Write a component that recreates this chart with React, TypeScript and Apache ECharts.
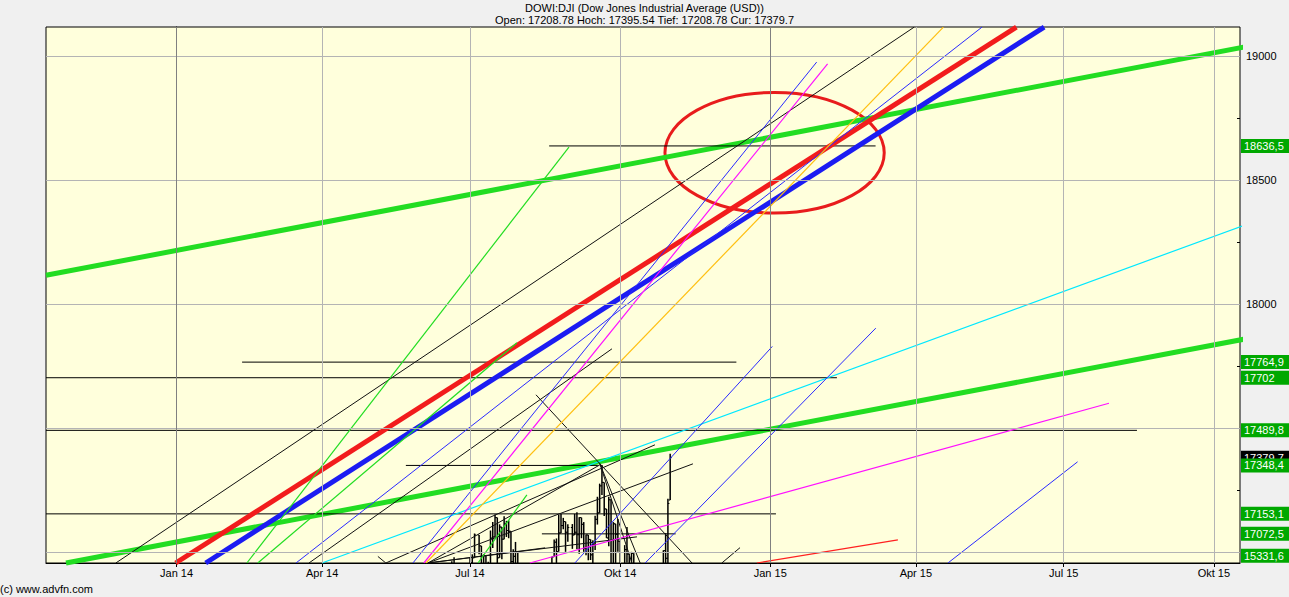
import React, { useEffect, useRef } from 'react';
import * as echarts from 'echarts';

const TITLE = 'DOWI:DJI (Dow Jones Industrial Average (USD))';
const SUBTITLE = 'Open: 17208.78 Hoch: 17395.54 Tief: 17208.78 Cur: 17379.7';
const FOOTER = '(c) www.advfn.com';
const FONT = 'Liberation Sans, Arial, sans-serif';

// x unit: weekday (session) index counted from 2014-01-01
const X_MIN = -57.4;
const X_MAX = 467.5;
const Y_MIN = 16955;
const Y_MAX = 19116;

const quarterTicks = [0, 64, 129, 195, 261, 325, 390, 456];
const quarterLabels = ['Jan 14', 'Apr 14', 'Jul 14', 'Okt 14', 'Jan 15', 'Apr 15', 'Jul 15', 'Okt 15'];
const priceGrid = [17000, 17500, 18000, 18500, 19000];
const priceLabels = [18000, 18500, 19000];
const priceMinorTicks = [17250, 17750, 18250, 18750];

// trend lines: [x1, price1, x2, price2]
const greenChannel = [
  [-57.4, 18114.9, 489.1, 19070],
  [-48.6, 16955, 489.1, 17892],
];
const redTrend = [[-0.4, 16955, 369.2, 19115.7]];
const blueTrend = [[12.8, 16955, 381.4, 19115.7]];
const cyanLines = [[63.9, 16955, 489.1, 18383]];
const blackLines = [
  [-26.7, 16955, 324.3, 19115.7],
  [58.2, 16955, 191.4, 17818.5],
  [158.0, 17633.1, 226.6, 16955],
  [92.0, 16955, 210.3, 17431.5],
  [88.5, 16981.5, 92.0, 16955],
  [110.5, 16955, 227.0, 17354.8],
  [110.5, 16955, 186.1, 17350.8],
  [110.5, 16955, 202.4, 17060.5],
  [110.5, 16955, 162.0, 17016.1],
  [186.1, 17355, 200.2, 16955],
  [186.1, 17355, 203.8, 16955],
  [239.7, 16955, 247.7, 17016.9],
];
const blueLines = [
  [103.9, 16955, 281.4, 18974.6],
  [52.5, 16955, 354.1, 19115.7],
  [175.1, 16955, 261.9, 17828.2],
  [206.0, 16955, 307.4, 17902],
  [339.1, 16955, 396.1, 17362.9],
];
const magentaLines = [
  [108.7, 16955, 286.2, 18967.7],
  [155.3, 16955, 409.9, 17599.2],
];
const orangeLines = [[109.6, 16955, 337.1, 19115.7]];
const greenLines = [
  [30.9, 16955, 172.5, 18631.9],
  [35.7, 16955, 149.6, 17842.7],
  [132.5, 16955, 154.0, 17229.8],
];
const redLines = [[255.1, 16955, 317.1, 17048.4]];

// horizontal levels: [price, x1, x2]
const levels = [
  [18636.5, 163.8, 307.3],
  [17764.9, 28.8, 246.1],
  [17702, -57.4, 290.3],
  [17489.8, -57.4, 422.2],
  [17153.1, -57.4, 263.5],
  [17348.4, 100.8, 185.2],
  [17072.5, 160.6, 219.4],
];

const markerValues = [18636.5, 17764.9, 17702, 17489.8, 17379.7, 17348.4, 17153.1, 17072.5, 15331.6];
const currentValue = 17379.7;

// focus ellipse: [center x, center price, radius x, radius price]
const focusEllipse = [262.9, 18608.9, 48.2, 243.1];

// daily bars: [date, open, high, low, close]
const bars: [string, number, number, number, number][] = [
  ['2014-06-19', 16906, 16962, 16880, 16921],
  ['2014-06-20', 16921, 16978, 16900, 16947],
  ['2014-07-01', 16828, 16978, 16828, 16956],
  ['2014-07-02', 16956, 16990, 16930, 16976],
  ['2014-07-03', 16976, 17074, 16976, 17068],
  ['2014-07-07', 17068, 17068, 16990, 17024],
  ['2014-07-08', 17024, 17024, 16870, 16906],
  ['2014-07-09', 16906, 16990, 16896, 16985],
  ['2014-07-10', 16985, 16985, 16825, 16915],
  ['2014-07-11', 16915, 16960, 16880, 16944],
  ['2014-07-14', 16944, 17086, 16944, 17055],
  ['2014-07-15', 17055, 17120, 17015, 17060],
  ['2014-07-16', 17060, 17151, 17060, 17138],
  ['2014-07-17', 17138, 17138, 16955, 16976],
  ['2014-07-18', 16976, 17111, 16976, 17100],
  ['2014-07-21', 17100, 17100, 16970, 17051],
  ['2014-07-22', 17051, 17143, 17051, 17113],
  ['2014-07-23', 17113, 17125, 17060, 17086],
  ['2014-07-24', 17086, 17126, 17055, 17083],
  ['2014-07-25', 17083, 17083, 16917, 16961],
  ['2014-07-28', 16961, 17010, 16880, 16982],
  ['2014-07-29', 16982, 17040, 16910, 16912],
  ['2014-07-30', 16912, 17000, 16860, 16880],
  ['2014-08-20', 16919, 16980, 16890, 16980],
  ['2014-08-21', 16980, 17050, 16980, 17039],
  ['2014-08-22', 17039, 17054, 16940, 17001],
  ['2014-08-25', 17001, 17150, 17001, 17076],
  ['2014-08-26', 17076, 17153, 17076, 17106],
  ['2014-08-27', 17106, 17137, 17091, 17122],
  ['2014-08-28', 17122, 17122, 17000, 17079],
  ['2014-08-29', 17079, 17111, 17041, 17098],
  ['2014-09-02', 17098, 17112, 17012, 17068],
  ['2014-09-03', 17068, 17153, 17068, 17079],
  ['2014-09-04', 17079, 17160, 17010, 17069],
  ['2014-09-05', 17069, 17139, 16992, 17138],
  ['2014-09-08', 17138, 17138, 17055, 17111],
  ['2014-09-09', 17111, 17120, 17000, 17014],
  ['2014-09-10', 17014, 17070, 16986, 17068],
  ['2014-09-11', 17068, 17068, 16966, 17050],
  ['2014-09-12', 17050, 17050, 16967, 16988],
  ['2014-09-15', 16988, 17047, 16950, 17031],
  ['2014-09-16', 17031, 17146, 17007, 17131],
  ['2014-09-17', 17131, 17222, 17110, 17157],
  ['2014-09-18', 17157, 17275, 17157, 17266],
  ['2014-09-19', 17266, 17350, 17229, 17280],
  ['2014-09-22', 17280, 17280, 17144, 17173],
  ['2014-09-23', 17173, 17173, 17056, 17056],
  ['2014-09-24', 17056, 17222, 17023, 17210],
  ['2014-09-25', 17210, 17210, 16945, 16946],
  ['2014-09-26', 16946, 17120, 16946, 17113],
  ['2014-09-29', 17113, 17113, 16945, 17071],
  ['2014-09-30', 17071, 17132, 17000, 17043],
  ['2014-10-01', 17043, 17043, 16780, 16804],
  ['2014-10-03', 16802, 17027, 16802, 17009],
  ['2014-10-06', 17009, 17100, 16956, 16991],
  ['2014-10-07', 16991, 16991, 16716, 16719],
  ['2014-10-08', 16719, 17000, 16658, 16994],
  ['2014-10-09', 16994, 16994, 16656, 16659],
  ['2014-10-28', 16817, 17006, 16817, 17005],
  ['2014-10-29', 17005, 17075, 16900, 16974],
  ['2014-10-30', 16974, 17214, 16938, 17195],
  ['2014-10-31', 17208.78, 17395.54, 17208.78, 17379.7],
];

function weekdayIndex(d: string): number {
  const [y, m, dd] = d.split('-').map(Number);
  const start = Date.UTC(2014, 0, 1);
  const t = Date.UTC(y, m - 1, dd);
  let n = 0;
  for (let x = start; x < t; x += 86400000) {
    const wd = new Date(x).getUTCDay();
    if (wd !== 0 && wd !== 6) n++;
  }
  return n;
}

function segSeries(c: number[], color: string, width: number, clip = true) {
  return {
    type: 'line',
    data: [[c[0], c[1]], [c[2], c[3]]],
    symbol: 'none',
    showSymbol: false,
    silent: true,
    clip,
    lineStyle: { color, width, cap: 'butt' },
  };
}

export default function App() {
  const ref = useRef<HTMLDivElement>(null);
  useEffect(() => {
    if (!ref.current) return;
    const chart = echarts.init(ref.current, null, { renderer: 'svg' });

    const series: any[] = [];
    // grid lines
    series.push({
      type: 'line',
      data: [[X_MIN, Y_MIN]],
      symbol: 'none',
      silent: true,
      lineStyle: { opacity: 0 },
      markLine: {
        symbol: 'none',
        silent: true,
        label: { show: false },
        lineStyle: { color: '#b4b4b4', width: 1, type: 'solid' },
        data: [
          ...priceGrid.map((v) => ({ yAxis: v })),
          ...quarterTicks.map((v, i) => ({
            xAxis: v,
            lineStyle: { color: i % 4 === 0 ? '#808080' : '#b4b4b4', width: 1, type: 'solid' },
          })),
        ],
      },
    });

    greenChannel.forEach((c) => series.push(segSeries(c, '#22dd22', 5, false)));
    levels.forEach((l) => series.push(segSeries([l[1], l[0], l[2], l[0]], '#000000', 1)));
    redTrend.forEach((c) => series.push(segSeries(c, '#f21c1c', 5)));
    blueTrend.forEach((c) => series.push(segSeries(c, '#1c1cf2', 5)));
    cyanLines.forEach((c) => series.push(segSeries(c, '#00e8ff', 1.2, false)));
    blackLines.forEach((c) => series.push(segSeries(c, '#111111', 1)));
    blueLines.forEach((c) => series.push(segSeries(c, '#2a2aff', 1)));
    magentaLines.forEach((c) => series.push(segSeries(c, '#ff10ff', 1.2)));
    orangeLines.forEach((c) => series.push(segSeries(c, '#ffbf10', 1.2)));
    greenLines.forEach((c) => series.push(segSeries(c, '#22dd22', 1.2)));
    redLines.forEach((c) => series.push(segSeries(c, '#ff2020', 1.2)));

    // price bars
    series.push({
      type: 'custom',
      clip: true,
      silent: true,
      data: bars.map((b) => [weekdayIndex(b[0]), b[1], b[2], b[3], b[4]]),
      encode: { x: 0, y: [1, 2, 3, 4] },
      renderItem: (params: any, api: any) => {
        const x = api.value(0);
        const hiV = api.value(2);
        if (hiV < Y_MIN) return null;
        const hi = api.coord([x, hiV]);
        const lo = api.coord([x, Math.max(api.value(3), Y_MIN)]);
        const children: any[] = [
          { type: 'line', shape: { x1: hi[0], y1: hi[1], x2: lo[0], y2: lo[1] }, style: { stroke: '#000', lineWidth: 1.5 } },
        ];
        const oV = api.value(1);
        const cV = api.value(4);
        if (oV >= Y_MIN) {
          const op = api.coord([x, oV]);
          children.push({ type: 'line', shape: { x1: op[0] - 1.5, y1: op[1], x2: op[0], y2: op[1] }, style: { stroke: '#000', lineWidth: 1 } });
        }
        if (cV >= Y_MIN) {
          const cl = api.coord([x, cV]);
          children.push({ type: 'line', shape: { x1: cl[0], y1: cl[1], x2: cl[0] + 1.5, y2: cl[1] }, style: { stroke: '#000', lineWidth: 1 } });
        }
        return { type: 'group', children };
      },
    });

    // focus ellipse
    series.push({
      type: 'custom',
      silent: true,
      data: [focusEllipse],
      encode: { x: 0, y: 1 },
      renderItem: (params: any, api: any) => {
        const c = api.coord([api.value(0), api.value(1)]);
        const s = api.size([api.value(2), api.value(3)]);
        return {
          type: 'ellipse',
          shape: { cx: c[0], cy: c[1], rx: s[0], ry: s[1] },
          style: { fill: 'none', stroke: '#e81c1c', lineWidth: 3 },
        };
      },
    });

    // right axis markers
    series.push({
      type: 'line',
      data: [[X_MIN, Y_MIN]],
      symbol: 'none',
      silent: true,
      lineStyle: { opacity: 0 },
      markLine: {
        symbol: 'none',
        silent: true,
        lineStyle: { color: 'rgba(0,0,0,0)', width: 0 },
        data: markerValues.map((v) => ({
          yAxis: Math.max(v, Y_MIN + 29),
          lineStyle: { color: 'rgba(0,0,0,0)', width: 0 },
          label: {
            show: true,
            position: 'end',
            distance: 1,
            formatter: String(v).replace('.', ','),
            color: '#ffffff',
            backgroundColor: v === currentValue ? '#000000' : '#00a800',
            padding: [2, 3, 1, 3],
            width: 42,
            fontSize: 11,
            lineHeight: 11,
            fontFamily: FONT,
            opacity: 1,
          },
        })),
      },
    });

    chart.setOption({
      animation: false,
      backgroundColor: '#f0f0f0',
      title: [
        { text: TITLE, left: 'center', top: 2, padding: 0, textStyle: { fontSize: 11, fontWeight: 'normal', color: '#000', fontFamily: FONT } },
        { text: SUBTITLE, left: 'center', top: 14, padding: 0, textStyle: { fontSize: 11, fontWeight: 'normal', color: '#000', fontFamily: FONT } },
        { text: FOOTER, left: 0, top: 583, padding: 0, textStyle: { fontSize: 11, fontWeight: 'normal', color: '#000', fontFamily: FONT } },
      ],
      grid: {
        left: 46,
        right: 49,
        top: 27,
        bottom: 34,
        show: true,
        backgroundColor: '#ffffdc',
        borderColor: '#000',
        borderWidth: 1,
      },
      xAxis: {
        type: 'value',
        min: X_MIN,
        max: X_MAX,
        axisLine: { show: true, onZero: false, lineStyle: { color: '#000', width: 1 } },
        axisTick: { show: true, customValues: quarterTicks, length: 4, lineStyle: { color: '#000' } },
        axisLabel: {
          customValues: quarterTicks,
          formatter: (v: number) => {
            const i = quarterTicks.indexOf(v);
            return i >= 0 ? quarterLabels[i] : '';
          },
          color: '#000',
          fontSize: 11,
          margin: 4,
          fontFamily: FONT,
        },
        splitLine: { show: false },
      },
      yAxis: [
        {
          type: 'value',
          position: 'right',
          min: Y_MIN,
          max: Y_MAX,
          axisLine: { show: true, lineStyle: { color: '#000', width: 1 } },
          axisTick: { show: true, customValues: priceGrid, length: 4, lineStyle: { color: '#000' } },
          axisLabel: {
            customValues: priceLabels,
            formatter: (v: number) => String(v),
            color: '#000',
            fontSize: 11,
            margin: 6,
            fontFamily: FONT,
          },
          splitLine: { show: false },
        },
        {
          type: 'value',
          position: 'right',
          min: Y_MIN,
          max: Y_MAX,
          axisLine: { show: false },
          axisTick: { show: true, inside: true, customValues: priceMinorTicks, length: 3, lineStyle: { color: '#000' } },
          axisLabel: { show: false },
          splitLine: { show: false },
        },
      ],
      series,
    });

    return () => chart.dispose();
  }, []);

  return (
    <div
      ref={ref}
      style={{ position: 'fixed', left: 0, top: 0, width: 1289, height: 597 }}
    />
  );
}
